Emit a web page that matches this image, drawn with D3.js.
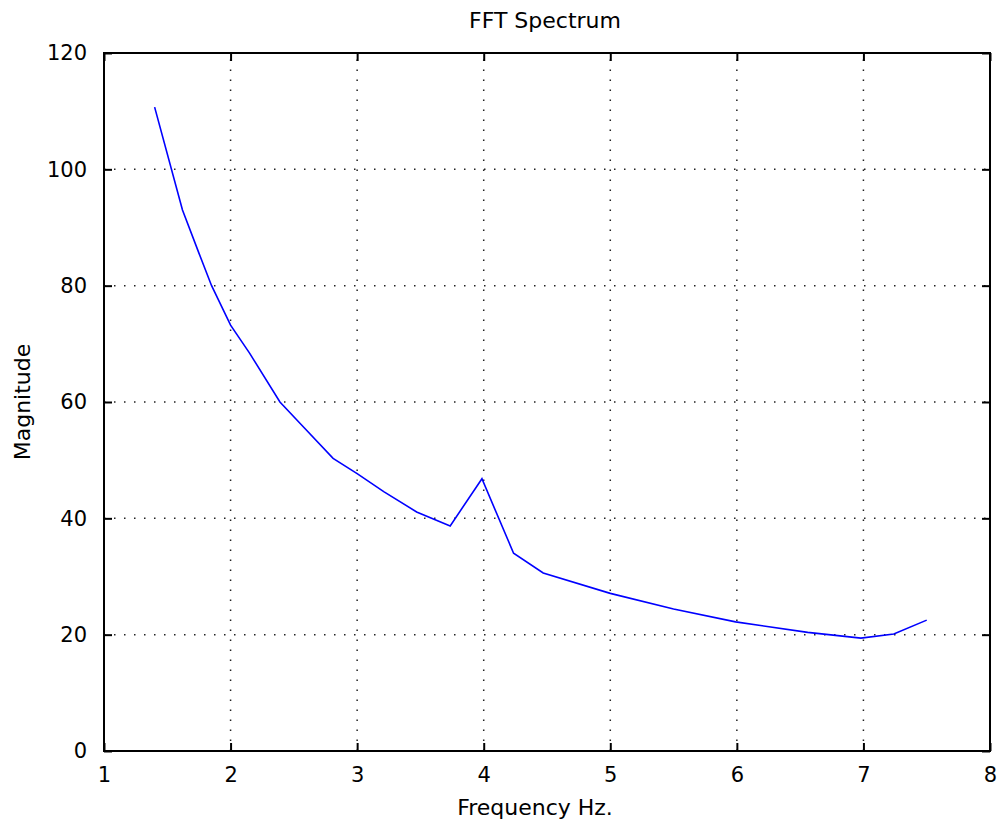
<!DOCTYPE html>
<html>
<head>
<meta charset="utf-8">
<script src="https://cdn.jsdelivr.net/npm/d3@7"></script>
<style>
  body { margin: 0; background: #fff; }
  svg text { font-family: "DejaVu Sans", sans-serif; fill: #000; }
</style>
</head>
<body>
<svg id="chart" width="1004" height="828"></svg>
<script>
const freq = [1.40, 1.62, 1.75, 1.85, 2.00, 2.15, 2.39, 2.55, 2.81, 3.00, 3.21, 3.47, 3.735, 3.986, 4.236, 4.47, 5.00, 5.50, 5.99, 6.56, 6.98, 7.24, 7.50];
const magnitude = [110.7, 93.0, 85.6, 80.0, 73.2, 68.4, 60.0, 56.3, 50.3, 47.7, 44.6, 41.1, 38.7, 46.8, 34.0, 30.6, 27.1, 24.4, 22.2, 20.4, 19.4, 20.1, 22.5];
const xTicks = [1, 2, 3, 4, 5, 6, 7, 8];
const yTicks = [0, 20, 40, 60, 80, 100, 120];
const titleText = "FFT Spectrum";
const xLabelText = "Frequency Hz.";
const yLabelText = "Magnitude";

(function () {
const svg = d3.select("#chart");
const pL = 104, pR = 990, pT = 53, pB = 751;
const x = d3.scaleLinear().domain([1, 8]).range([pL, pR]);
const y = d3.scaleLinear().domain([0, 120]).range([pB, pT]);

// grid
const grid = svg.append("g");
grid.selectAll(".vg").data(xTicks.slice(1, -1)).enter().append("line")
  .attr("x1", d => x(d)).attr("x2", d => x(d)).attr("y1", pB).attr("y2", pT)
  .attr("stroke", "#222").attr("stroke-width", 1.5).attr("stroke-dasharray", "1.5,8.5");
grid.selectAll(".hg").data(yTicks.slice(1, -1)).enter().append("line")
  .attr("y1", d => y(d)).attr("y2", d => y(d)).attr("x1", pL).attr("x2", pR)
  .attr("stroke", "#222").attr("stroke-width", 1.5).attr("stroke-dasharray", "1.5,8.5");

// axes (ticks inside)
const tl = 8;
const fmt = d3.format("d");
const xb = d3.axisBottom(x).tickValues(xTicks).tickFormat(fmt).tickSizeInner(-tl).tickSizeOuter(0).tickPadding(tl + 8);
const xt = d3.axisTop(x).tickValues(xTicks).tickSizeInner(-tl).tickSizeOuter(0).tickFormat("");
const yl = d3.axisLeft(y).tickValues(yTicks).tickFormat(fmt).tickSizeInner(-tl).tickSizeOuter(0).tickPadding(tl + 9);
const yr = d3.axisRight(y).tickValues(yTicks).tickSizeInner(-tl).tickSizeOuter(0).tickFormat("");

function style(g) {
  g.selectAll("path").remove();
  g.selectAll("line").attr("stroke", "#000").attr("stroke-width", 2);
  g.selectAll("text").style("font-family", "DejaVu Sans, sans-serif").style("font-size", "21px").attr("fill", "#000");
}
svg.append("g").attr("transform", `translate(0,${pB})`).call(xb).call(style);
svg.append("g").attr("transform", `translate(0,${pT})`).call(xt).call(style);
svg.append("g").attr("transform", `translate(${pL},0)`).call(yl).call(style);
svg.append("g").attr("transform", `translate(${pR},0)`).call(yr).call(style);

// box
svg.append("rect").attr("x", pL).attr("y", pT).attr("width", pR - pL).attr("height", pB - pT)
  .attr("fill", "none").attr("stroke", "#000").attr("stroke-width", 2);

// line
const line = d3.line().x((d, i) => x(freq[i])).y((d, i) => y(magnitude[i]));
svg.append("path").datum(magnitude).attr("d", line)
  .attr("fill", "none").attr("stroke", "#0000ff").attr("stroke-width", 1.6);

// labels
svg.append("text").attr("x", 545).attr("y", 28).attr("text-anchor", "middle")
  .style("font-size", "22px").text(titleText);
svg.append("text").attr("x", 535).attr("y", 815).attr("text-anchor", "middle")
  .style("font-size", "22px").text(xLabelText);
svg.append("text").attr("transform", `translate(30,402) rotate(-90)`).attr("text-anchor", "middle")
  .style("font-size", "22px").text(yLabelText);
})();
</script>
</body>
</html>
